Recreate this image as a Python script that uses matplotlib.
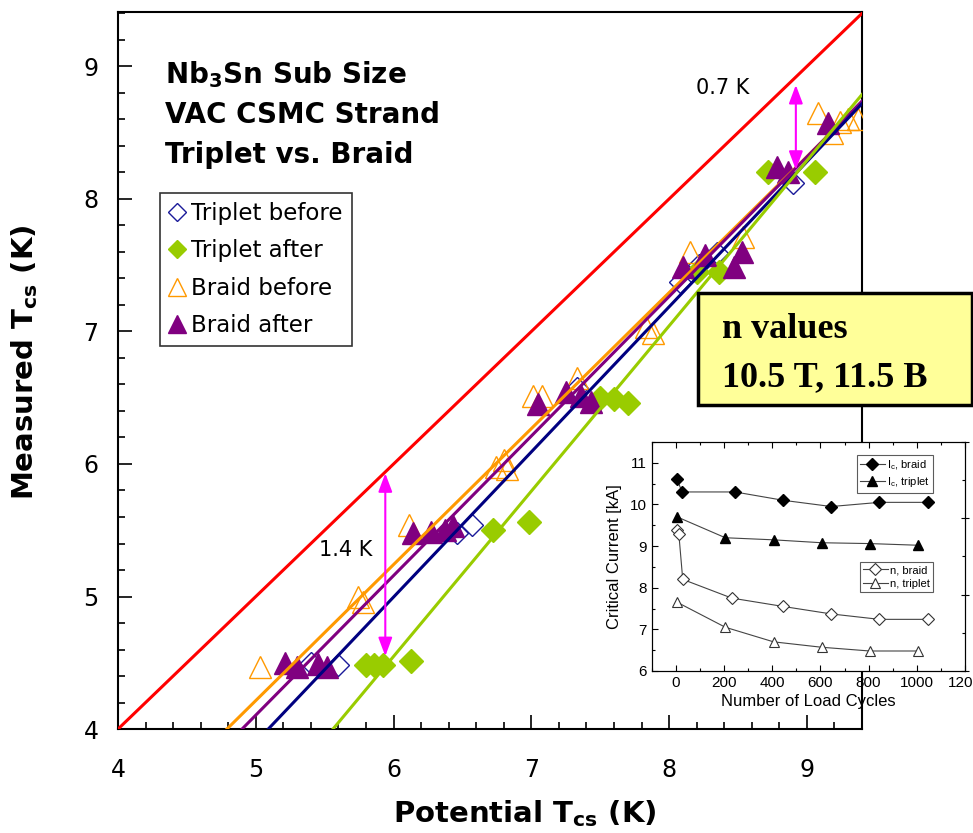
import numpy as np
import matplotlib
matplotlib.use("Agg")
import matplotlib.pyplot as plt
from matplotlib.patches import Rectangle
from matplotlib.ticker import MultipleLocator, NullFormatter

# ---- main plot data (Potential Tcs, Measured Tcs) ----
triplet_before_x = [5.40, 5.60, 6.46, 6.57, 7.33, 8.08, 8.22, 8.35, 8.90]
triplet_before_y = [4.50, 4.48, 5.48, 5.54, 6.57, 7.37, 7.50, 7.59, 8.12]

triplet_after_x = [5.80, 5.86, 5.92, 6.13, 6.72, 6.98, 7.50, 7.60, 7.70, 8.20, 8.36, 8.72, 9.06]
triplet_after_y = [4.48, 4.48, 4.48, 4.51, 5.50, 5.56, 6.50, 6.49, 6.46, 7.45, 7.45, 8.20, 8.20]

braid_before_x = [5.03, 5.74, 5.78, 6.11, 6.74, 6.80, 6.82, 7.01, 7.08, 7.33, 7.83, 7.88,
                  8.15, 8.54, 9.08, 9.18, 9.24, 9.30, 9.37]
braid_before_y = [4.47, 5.00, 4.96, 5.54, 5.98, 6.03, 5.96, 6.51, 6.51, 6.65, 7.03, 6.99,
                  7.60, 7.71, 8.65, 8.50, 8.58, 8.60, 8.60]

braid_after_x = [5.21, 5.30, 5.45, 5.52, 6.14, 6.27, 6.37, 6.43, 7.05, 7.25, 7.36, 7.43,
                 8.10, 8.26, 8.47, 8.53, 8.78, 8.86, 9.15]
braid_after_y = [4.50, 4.47, 4.49, 4.47, 5.48, 5.49, 5.50, 5.53, 6.45, 6.54, 6.51, 6.47,
                 7.49, 7.58, 7.49, 7.60, 8.24, 8.20, 8.57]

# linear fits: identity (red), braid before, braid after, triplet before, triplet after
fit_colors = ["#FF0000", "#FF9900", "#800080", "#000080", "#99CC00"]
fit_slope = [1.0, 1.026, 1.053, 1.095, 1.247]
fit_intercept = [0.0, -0.915, -1.16, -1.574, -2.934]

# gap arrows
arrow_x = [5.94, 8.92]
arrow_lo = [4.55, 8.22]
arrow_hi = [5.93, 8.86]
arrow_text = ["1.4 K", "0.7 K"]
arrow_text_pos = [(5.65, 5.35), (8.39, 8.84)]

# ---- inset data (Number of load cycles) ----
ic_braid_x = [5, 25, 245, 445, 645, 845, 1045]
ic_braid_y = [10.6, 10.3, 10.3, 10.1, 9.95, 10.05, 10.05]
ic_triplet_x = [5, 205, 405, 605, 805, 1005]
ic_triplet_y = [9.70, 9.20, 9.15, 9.08, 9.06, 9.02]
n_braid_x = [5, 12, 28, 232, 445, 645, 845, 1045]
n_braid_y = [9.38, 9.28, 8.20, 7.75, 7.55, 7.37, 7.24, 7.24]
n_triplet_x = [5, 205, 405, 605, 805, 1005]
n_triplet_y = [7.65, 7.05, 6.70, 6.57, 6.48, 6.48]

plt.rcParams["font.family"] = "DejaVu Sans"

fig = plt.figure(figsize=(9.73, 8.33), dpi=100)
ax = fig.add_axes([0.1213, 0.1248, 0.7646, 0.8607])

ax.plot(triplet_before_x, triplet_before_y, "D", ms=11, mfc="none", mec="#1a1a99",
        mew=1.0, ls="none", label="Triplet before", zorder=3)
ax.plot(triplet_after_x, triplet_after_y, "D", ms=12, mfc="#99CC00", mec="#99CC00",
        ls="none", label="Triplet after", zorder=3)
ax.plot(braid_before_x, braid_before_y, "^", ms=16, mfc="none", mec="#FF9900",
        mew=1.0, ls="none", label="Braid before", zorder=3)
ax.plot(braid_after_x, braid_after_y, "^", ms=16, mfc="#800080", mec="#800080",
        ls="none", label="Braid after", zorder=3)

xs = np.linspace(4, 9.4, 50)
for c, m, b in zip(fit_colors, fit_slope, fit_intercept):
    ax.plot(xs, m * xs + b, color=c, lw=2.2, zorder=4)

for x, lo, hi in zip(arrow_x, arrow_lo, arrow_hi):
    ax.annotate("", xy=(x, lo), xytext=(x, hi),
                arrowprops=dict(arrowstyle="<|-|>,head_width=0.3,head_length=0.8",
                                color="#FF00FF", lw=1.5, mutation_scale=14,
                                shrinkA=0, shrinkB=0), zorder=5)
for t, (tx, ty) in zip(arrow_text, arrow_text_pos):
    ax.text(tx, ty, t, fontsize=15, ha="center", va="center", zorder=5)

ax.text(0.063, 0.913, r"Nb$_\mathregular{3}$Sn Sub Size", transform=ax.transAxes,
        fontsize=20, fontweight="bold", va="center")
ax.text(0.063, 0.856, "VAC CSMC Strand", transform=ax.transAxes,
        fontsize=20, fontweight="bold", va="center")
ax.text(0.063, 0.800, "Triplet vs. Braid", transform=ax.transAxes,
        fontsize=20, fontweight="bold", va="center")

leg = ax.legend(loc="upper left", bbox_to_anchor=(0.0565, 0.7476), fontsize=16.5,
                frameon=True, fancybox=False, edgecolor="black", handlelength=0.7,
                handletextpad=0.25, labelspacing=0.62, borderpad=0.4,
                borderaxespad=0, markerscale=0.8)
leg.get_frame().set_linewidth(1.2)

ax.set_xlim(4, 9.4)
ax.set_ylim(4, 9.41)
ax.xaxis.set_major_locator(MultipleLocator(1))
ax.xaxis.set_minor_locator(MultipleLocator(0.2))
ax.yaxis.set_major_locator(MultipleLocator(1))
ax.yaxis.set_minor_locator(MultipleLocator(0.2))
ax.tick_params(which="both", direction="in", top=False, right=False, width=1.2)
ax.tick_params(which="major", length=10, labelsize=17)
ax.tick_params(which="minor", length=5)
ax.tick_params(axis="x", pad=21)
ax.tick_params(axis="y", pad=14)
for s in ax.spines.values():
    s.set_linewidth(1.5)

ax.set_xlabel(r"Potential T$_\mathregular{cs}$ (K)", fontsize=21, fontweight="bold")
ax.set_ylabel(r"Measured T$_\mathregular{cs}$ (K)", fontsize=21, fontweight="bold")
ax.xaxis.set_label_coords(0.547, -0.097)
ax.yaxis.set_label_coords(-0.105, 0.512)

# yellow note box
fig.add_artist(Rectangle((0.717, 0.514), 0.282, 0.134, transform=fig.transFigure,
                         facecolor="#FFFF99", edgecolor="black", lw=2.5, zorder=2))
fig.text(0.742, 0.604, "n values", fontsize=26, fontweight="bold",
         family="Liberation Serif", va="center", zorder=3)
fig.text(0.742, 0.547, "10.5 T, 11.5 B", fontsize=26, fontweight="bold",
         family="Liberation Serif", va="center", zorder=3)

# inset
ins = fig.add_axes([0.670, 0.1945, 0.3217, 0.2749])
ins.set_facecolor("white")
sans = "Liberation Sans"
lc = "#444444"
ins.plot(ic_braid_x, ic_braid_y, "-D", color=lc, lw=0.8, ms=6, mfc="black", mec="black",
         label=r"I$_\mathregular{c}$, braid")
ins.plot(ic_triplet_x, ic_triplet_y, "-^", color=lc, lw=0.8, ms=7, mfc="black", mec="black",
         label=r"I$_\mathregular{c}$, triplet")
ins.plot(n_braid_x, n_braid_y, "-D", color=lc, lw=0.8, ms=6, mfc="white", mec="#333333",
         mew=0.8, label="n, braid")
ins.plot(n_triplet_x, n_triplet_y, "-^", color=lc, lw=0.8, ms=7, mfc="white", mec="#333333",
         mew=0.8, label="n, triplet")
h, l = ins.get_legend_handles_labels()
lg1 = ins.legend(h[:2], l[:2], loc="upper right", bbox_to_anchor=(0.898, 0.943),
                 prop={"family": sans, "size": 8}, fancybox=False, edgecolor="#333333",
                 handlelength=2.2, handletextpad=0.2, borderaxespad=0, labelspacing=0.3,
                 borderpad=0.3)
lg1.get_frame().set_linewidth(0.8)
ins.add_artist(lg1)
lg2 = ins.legend(h[2:], l[2:], loc="upper right", bbox_to_anchor=(0.898, 0.476),
                 prop={"family": sans, "size": 8}, fancybox=False, edgecolor="#333333",
                 handlelength=2.2, handletextpad=0.2, borderaxespad=0, labelspacing=0.3,
                 borderpad=0.3)
lg2.get_frame().set_linewidth(0.8)

ins.set_xlim(-100, 1200)
ins.set_ylim(6, 11.5)
ins.xaxis.set_major_locator(MultipleLocator(200))
ins.xaxis.set_minor_locator(MultipleLocator(100))
ins.yaxis.set_major_locator(MultipleLocator(1))
ins.yaxis.set_minor_locator(MultipleLocator(0.5))
ins.tick_params(which="both", direction="in", top=True, right=False, width=0.8)
ins.tick_params(which="major", length=4, labelsize=11)
ins.tick_params(which="minor", length=2.5)
for t in ins.get_xticklabels() + ins.get_yticklabels():
    t.set_family(sans)
for s in ins.spines.values():
    s.set_linewidth(0.8)
ins.set_xlabel("Number of Load Cycles", fontsize=12, family=sans, labelpad=3)
ins.set_ylabel("Critical Current [kA]", fontsize=12, family=sans, labelpad=6)

tw = ins.twinx()
tw.set_ylim(0, 30)
tw.yaxis.set_major_locator(MultipleLocator(10))
tw.yaxis.set_minor_locator(MultipleLocator(5))
tw.yaxis.set_major_formatter(NullFormatter())
tw.tick_params(which="major", direction="inout", length=6, width=0.8)
tw.tick_params(which="minor", direction="in", length=2.5, width=0.8)

fig.savefig("out.png", dpi=100)
